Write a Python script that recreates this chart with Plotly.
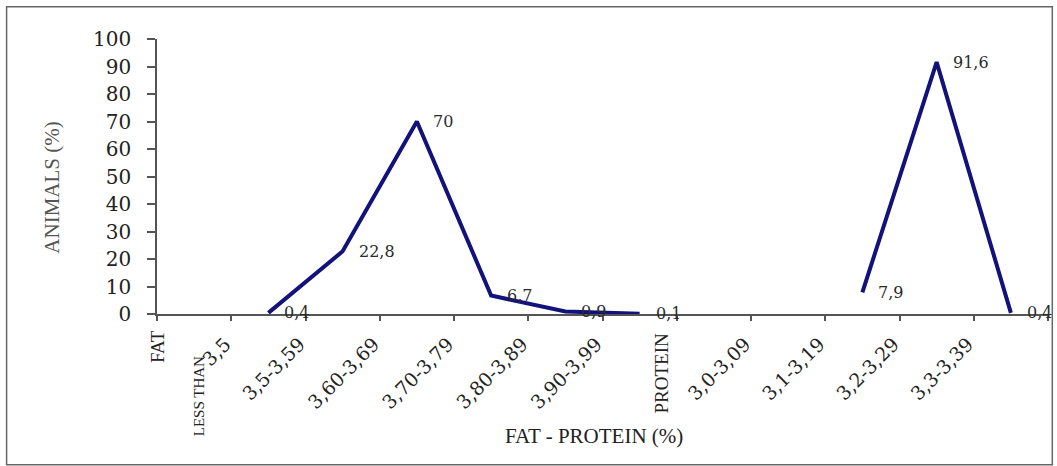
import plotly.graph_objects as go

# ---- data ----
category_index = list(range(12))
animals_pct = [None, 0.4, 22.8, 70, 6.7, 0.9, 0.1, None, None, 7.9, 91.6, 0.4]
tick_positions = [-0.5, 0.5, 1.5, 2.5, 3.5, 4.5, 5.5, 6.5, 7.5, 8.5, 9.5, 10.5, 11.5]
tick_labels = ["", "3,5", "3,5-3,59", "3,60-3,69", "3,70-3,79", "3,80-3,89",
               "3,90-3,99", "", "3,0-3,09", "3,1-3,19", "3,2-3,29", "3,3-3,39", ""]
y_ticks = list(range(0, 101, 10))

W, H = 1057, 466
L, R, T, B = 157.3, 9.3, 39.3, 152.3
PW, PH = W - L - R, H - T - B

def px_x(p):
    return (p - L) / PW

def px_y(p):
    return (H - B - p) / PH

fig = go.Figure()
fig.add_trace(go.Scatter(
    x=category_index, y=animals_pct, mode="lines",
    line=dict(color="#12127a", width=4), connectgaps=False,
    hoverinfo="skip", showlegend=False,
))

annotations = []
for xi, v in zip(category_index, animals_pct):
    if v is None:
        continue
    annotations.append(dict(
        x=xi, y=v, xref="x", yref="y", text=f"{v:g}".replace(".", ","),
        showarrow=False, xanchor="left", yanchor="middle", xshift=14,
        font=dict(family="DejaVu Serif", size=16, color="#2a2a2a"),
    ))

def vlabel(text, cx, cy, size):
    return dict(x=px_x(cx), y=px_y(cy), xref="paper", yref="paper", text=text,
                textangle=-90, showarrow=False, xanchor="center", yanchor="middle",
                font=dict(family="Liberation Serif", size=size, color="#222"))

# vertical group labels on the category axis
annotations += [
    vlabel("FAT", 158, 346, 19),
    vlabel("LESS THAN", 200, 396, 15),
    vlabel("PROTEIN", 661, 373, 19),
    dict(x=px_x(594), y=px_y(435), xref="paper", yref="paper",
         text="FAT - PROTEIN (%)", showarrow=False, xanchor="center", yanchor="middle",
         font=dict(family="Liberation Serif", size=21, color="#222")),
    dict(x=px_x(52), y=px_y(188), xref="paper", yref="paper",
         text="ANIMALS (%)", textangle=-90, showarrow=False,
         xanchor="center", yanchor="middle",
         font=dict(family="Liberation Serif", size=21, color="#555")),
]

fig.update_layout(
    width=W, height=H, autosize=False,
    margin=dict(l=L, r=R, t=T, b=B, pad=0),
    paper_bgcolor="white", plot_bgcolor="white",
    showlegend=False,
    annotations=annotations,
    shapes=[dict(type="rect", xref="paper", yref="paper",
                 x0=px_x(7), x1=px_x(1052), y0=px_y(464), y1=px_y(7),
                 line=dict(color="#666", width=1.5), fillcolor="rgba(0,0,0,0)",
                 layer="below")],
    xaxis=dict(
        range=[-0.5, 11.5], tickmode="array", tickvals=tick_positions,
        ticktext=tick_labels, tickangle=-45, ticks="outside", ticklen=5,
        tickwidth=1.5, tickcolor="#555", showline=True, linecolor="#555",
        linewidth=1.5, showgrid=False, zeroline=False, ticklabelstandoff=5,
        ticklabelshift=-6,
        tickfont=dict(family="DejaVu Serif", size=19, color="#222"),
    ),
    yaxis=dict(
        range=[0, 100], tickmode="array", tickvals=y_ticks, ticks="outside",
        ticklen=8, tickwidth=1.5, tickcolor="#555", showline=True,
        linecolor="#555", linewidth=1.5, showgrid=False, zeroline=False,
        ticklabelstandoff=12,
        tickfont=dict(family="DejaVu Serif", size=20, color="#222"),
    ),
)

fig.write_html(
    "out.html",
    config={"displayModeBar": False},
    post_script="document.body.style.margin='0';document.body.style.overflow='hidden';",
)
